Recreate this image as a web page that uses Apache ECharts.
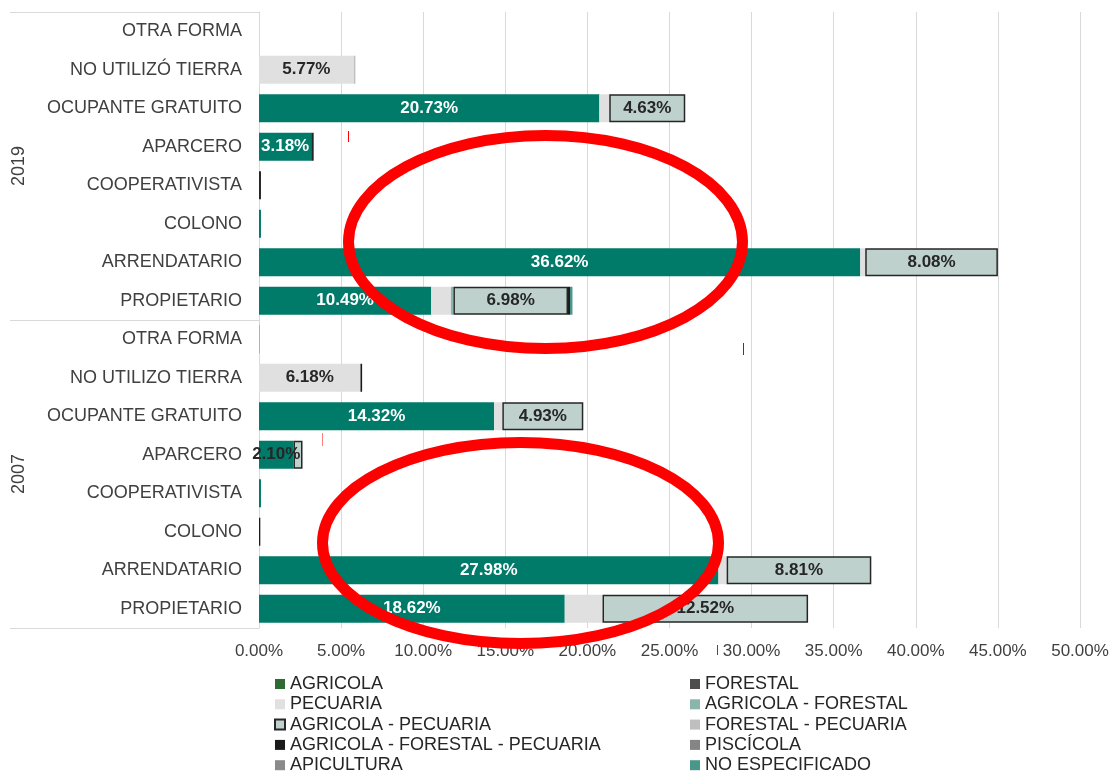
<!DOCTYPE html>
<html lang="es">
<head>
<meta charset="UTF-8">
<title>Forma de tenencia</title>
<script src="https://cdn.jsdelivr.net/npm/echarts@6/dist/echarts.min.js"></script>
<style>
    html, body { margin: 0; padding: 0; background: #fff; }
    #chart { width: 1112px; height: 774px; }
</style>
</head>
<body>
<div id="chart"></div>
<script type="text/javascript">
    // filas de arriba hacia abajo: 2019 y luego 2007
    var categories = ['OTRA FORMA', 'NO UTILIZÓ TIERRA', 'OCUPANTE GRATUITO', 'APARCERO', 'COOPERATIVISTA', 'COLONO', 'ARRENDATARIO', 'PROPIETARIO',
        'OTRA FORMA', 'NO UTILIZO TIERRA', 'OCUPANTE GRATUITO', 'APARCERO', 'COOPERATIVISTA', 'COLONO', 'ARRENDATARIO', 'PROPIETARIO'];
    var years = ['2019', '2007'];
    var xTicks = [0, 5, 10, 15, 20, 25, 30, 35, 40, 45, 50];

    var agricola      = [0, 0, 20.73, 3.18, 0, 0.12, 36.62, 10.49, 0, 0, 14.32, 2.10, 0.12, 0, 27.98, 18.62];
    var forestal      = [0, 0, 0, 0, 0.12, 0, 0, 0, 0, 0, 0, 0, 0, 0, 0, 0];
    var pecuaria      = [0, 5.77, 0.6, 0, 0, 0, 0.3, 1.2, 0, 6.18, 0.5, 0, 0, 0, 0.5, 2.3];
    var agrForestal   = [0, 0, 0, 0, 0, 0, 0, 0.15, 0.05, 0, 0, 0, 0, 0, 0, 0];
    var agrPecuaria   = [0, 0, 4.63, 0.15, 0, 0, 8.08, 6.98, 0, 0, 4.93, 0.55, 0, 0, 8.81, 12.52];
    var forPecuaria   = [0, 0.1, 0, 0, 0, 0, 0, 0, 0, 0, 0, 0, 0, 0, 0, 0];
    var agrForPec     = [0, 0, 0, 0, 0, 0, 0, 0.12, 0, 0.1, 0, 0, 0, 0.08, 0, 0];
    var piscicola     = [0, 0, 0, 0, 0, 0, 0, 0, 0, 0, 0, 0, 0, 0, 0, 0];
    var apicultura    = [0, 0, 0, 0, 0, 0, 0, 0, 0, 0, 0, 0, 0, 0, 0, 0];
    var noEspecif     = [0, 0, 0, 0, 0, 0, 0, 0.15, 0, 0, 0, 0, 0, 0, 0, 0];

    var myChart = echarts.init(document.getElementById('chart'));
    var fontFam = '"Liberation Sans", Arial, sans-serif';

    function mkSeries(name, data, color, labelColor, minShow, border) {
        return {
            name: name,
            type: 'bar',
            stack: 'total',
            barWidth: 28,
            // los ceros no se dibujan (si no, el borde deja una raya)
            data: data.map(function (v) { return v === 0 ? '-' : v; }),
            itemStyle: {
                color: color,
                borderColor: border ? '#262626' : color,
                borderWidth: border ? 1.5 : 0
            },
            label: {
                show: labelColor != null,
                position: 'inside',
                color: labelColor || '#fff',
                fontFamily: fontFam,
                fontWeight: 'bold',
                fontSize: 17,
                formatter: function (p) {
                    if (!(p.value >= minShow)) return '';
                    var txt = p.value.toFixed(2) + '%';
                    // barra muy corta: el texto se sale y va oscuro
                    return p.value < 2.5 ? '{d|' + txt + '}' : txt;
                },
                rich: {
                    d: { color: '#262626', fontFamily: fontFam, fontWeight: 'bold', fontSize: 17 }
                }
            },
            emphasis: { disabled: true }
        };
    }

    var series = [
        mkSeries('AGRICOLA', agricola, '#007a69', '#ffffff', 2),
        mkSeries('FORESTAL', forestal, '#4d4d4d', null, 99, true),
        mkSeries('PECUARIA', pecuaria, '#e0e0e0', '#262626', 3),
        mkSeries('AGRICOLA - FORESTAL', agrForestal, '#8ab5ab', null, 99),
        mkSeries('AGRICOLA - PECUARIA', agrPecuaria, '#bed1cc', '#262626', 3, true),
        mkSeries('FORESTAL - PECUARIA', forPecuaria, '#bfbfbf', null, 99),
        mkSeries('AGRICOLA - FORESTAL - PECUARIA', agrForPec, '#1a1a1a', null, 99),
        mkSeries('PISCÍCOLA', piscicola, '#858585', null, 99),
        mkSeries('APICULTURA', apicultura, '#8a8a8a', null, 99),
        mkSeries('NO ESPECIFICADO', noEspecif, '#4a968a', null, 99)
    ];

    var legendText = { color: '#262626', fontSize: 18, fontFamily: fontFam };

    var option = {
        backgroundColor: '#ffffff',
        animation: false,
        textStyle: { fontFamily: fontFam },
        grid: {
            left: 259,
            right: 32,
            top: 12,
            bottom: 146,
            containLabel: false,
            outerBoundsMode: 'none'
        },
        legend: [
            {
                orient: 'vertical',
                left: 274,
                top: 675,
                height: 140,
                icon: 'rect',
                itemWidth: 10,
                itemHeight: 10,
                itemGap: 2.3,
                padding: 0,
                selectedMode: false,
                textStyle: legendText,
                data: [
                    { name: 'AGRICOLA', itemStyle: { color: '#2e6b33', borderWidth: 0 } },
                    'PECUARIA', 'AGRICOLA - PECUARIA', 'AGRICOLA - FORESTAL - PECUARIA', 'APICULTURA'
                ]
            },
            {
                orient: 'vertical',
                left: 690,
                top: 675,
                height: 140,
                icon: 'rect',
                itemWidth: 10,
                itemHeight: 10,
                itemGap: 2.3,
                padding: 0,
                selectedMode: false,
                textStyle: legendText,
                data: [
                    { name: 'FORESTAL', itemStyle: { borderWidth: 0 } },
                    'AGRICOLA - FORESTAL', 'FORESTAL - PECUARIA', 'PISCÍCOLA', 'NO ESPECIFICADO'
                ]
            }
        ],
        xAxis: {
            type: 'value',
            min: xTicks[0],
            max: xTicks[xTicks.length - 1],
            interval: 5,
            axisLine: { show: false },
            axisTick: { show: false },
            splitLine: { show: true, lineStyle: { color: '#d9d9d9', width: 1 } },
            axisLabel: {
                color: '#404040',
                fontSize: 17,
                fontFamily: fontFam,
                margin: 15,
                formatter: function (v) { return v.toFixed(2) + '%'; }
            }
        },
        yAxis: [
            {
                type: 'category',
                data: categories,
                inverse: true,
                axisLine: { show: true, lineStyle: { color: '#d9d9d9' } },
                axisTick: { show: false },
                axisLabel: {
                    color: '#404040',
                    fontSize: 18,
                    fontFamily: fontFam,
                    margin: 17,
                    interval: 0
                }
            },
            {
                type: 'category',
                data: years,
                inverse: true,
                position: 'left',
                offset: 0,
                axisLine: { show: false },
                axisTick: { show: true, length: 249, lineStyle: { color: '#d9d9d9' } },
                axisLabel: {
                    rotate: 90,
                    margin: 231,
                    color: '#404040',
                    fontSize: 18,
                    fontFamily: fontFam
                }
            }
        ],
        graphic: [
            // anotaciones rojas dibujadas sobre el gráfico
            { type: 'ellipse', z: 100, shape: { cx: 545.5, cy: 242, rx: 197, ry: 106.5 }, style: { fill: 'none', stroke: '#ff0000', lineWidth: 11 } },
            { type: 'ellipse', z: 100, shape: { cx: 520.5, cy: 543, rx: 198, ry: 100.5 }, style: { fill: 'none', stroke: '#ff0000', lineWidth: 11 } },
            { type: 'line', z: 100, shape: { x1: 348.5, y1: 131, x2: 348.5, y2: 142 }, style: { stroke: '#ff0000', lineWidth: 1 } },
            { type: 'line', z: 100, shape: { x1: 322.5, y1: 433, x2: 322.5, y2: 446 }, style: { stroke: '#ff8080', lineWidth: 1 } },
            { type: 'line', z: 100, shape: { x1: 743.5, y1: 343, x2: 743.5, y2: 355 }, style: { stroke: '#c00030', lineWidth: 1 } },
            { type: 'line', z: 100, shape: { x1: 717.5, y1: 645, x2: 717.5, y2: 655 }, style: { stroke: '#ff0000', lineWidth: 1 } }
        ],
        series: series
    };

    myChart.setOption(option);
</script>
</body>
</html>
